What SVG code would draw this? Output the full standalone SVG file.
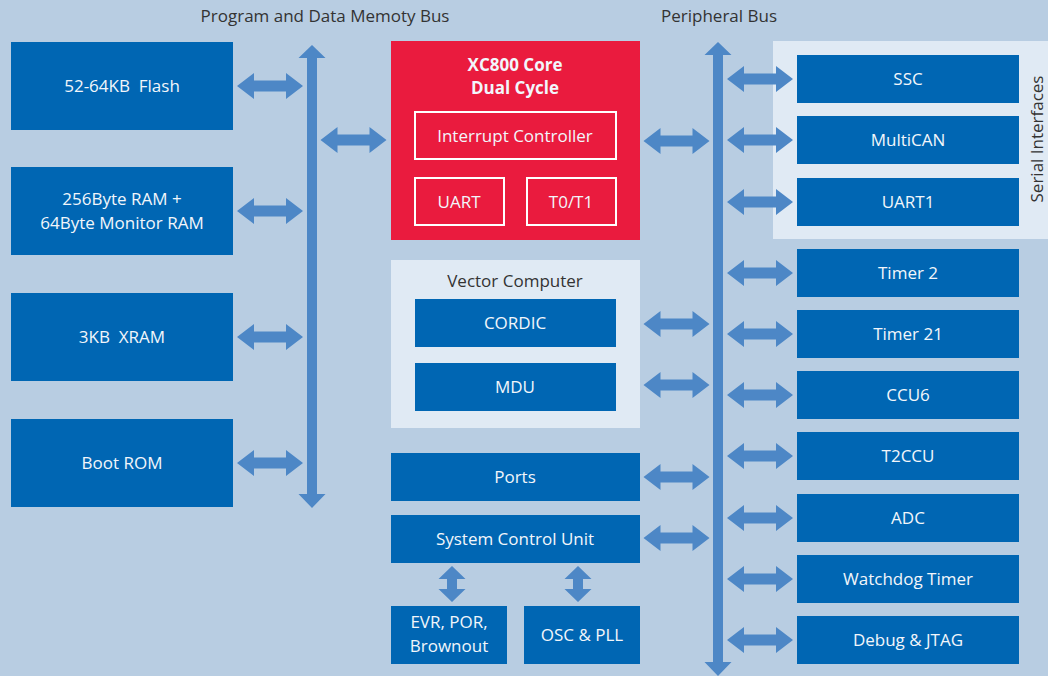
<svg xmlns="http://www.w3.org/2000/svg" xmlns:xlink="http://www.w3.org/1999/xlink" width="1048" height="676" viewBox="0 0 1048 676">
<style>
.box{fill:#0066b3}
.lbl{font-family:"Open Sans","Noto Sans",sans-serif;font-size:17px;fill:#f2f6fb;text-anchor:middle;white-space:pre}
.ttl{font-family:"Open Sans","Noto Sans",sans-serif;font-size:17px;fill:#333333;text-anchor:middle}
.bold{font-weight:bold}
.arr{fill:#4d87c6}
.panel{fill:#e0eaf4}
.sub{fill:none;stroke:#ffffff;stroke-width:2}
</style>
<defs>
<path id="ha" d="M-33,0 L-16,-13 L-16,-5.5 L16,-5.5 L16,-13 L33,0 L16,13 L16,5.5 L-16,5.5 L-16,13 Z"/>
<path id="va" d="M0,-18 L13.5,-5 L5,-5 L5,5 L13.5,5 L0,18 L-13.5,5 L-5,5 L-5,-5 L-13.5,-5 Z"/>
</defs>
<rect width="1048" height="676" fill="#b8cde2"/>
<text class="ttl" x="325" y="22">Program and Data Memoty Bus</text>
<text class="ttl" x="719" y="22">Peripheral Bus</text>

<g id="serial-panel">
<rect class="panel" x="773" y="41" width="275" height="198"/>
<text class="ttl" transform="translate(1043,139) rotate(-90)">Serial Interfaces</text>
</g>

<g id="flash"><rect class="box" x="11" y="42" width="222" height="88"/><text class="lbl" x="122" y="92" xml:space="preserve">52-64KB  Flash</text></g>
<g id="ram"><rect class="box" x="11" y="167" width="222" height="88"/><text class="lbl" x="122" y="205">256Byte RAM +</text><text class="lbl" x="122" y="229">64Byte Monitor RAM</text></g>
<g id="xram"><rect class="box" x="11" y="293" width="222" height="88"/><text class="lbl" x="122" y="343" xml:space="preserve">3KB  XRAM</text></g>
<g id="bootrom"><rect class="box" x="11" y="419" width="222" height="88"/><text class="lbl" x="122" y="469">Boot ROM</text></g>

<g id="core">
<rect x="391" y="41" width="249" height="199" fill="#ea1b3e"/>
<text class="lbl bold" x="515" y="71">XC800 Core</text>
<text class="lbl bold" x="515" y="94">Dual Cycle</text>
<rect class="sub" x="415" y="112" width="201" height="47"/>
<text class="lbl" x="515" y="142">Interrupt Controller</text>
<rect class="sub" x="415" y="178" width="89" height="47"/>
<text class="lbl" x="459" y="208">UART</text>
<rect class="sub" x="527" y="178" width="89" height="47"/>
<text class="lbl" x="571" y="208">T0/T1</text>
</g>

<g id="vector">
<rect class="panel" x="391" y="260" width="249" height="168"/>
<text class="ttl" x="515" y="287">Vector Computer</text>
<rect class="box" x="415" y="299" width="201" height="48"/><text class="lbl" x="515" y="329">CORDIC</text>
<rect class="box" x="415" y="363" width="201" height="48"/><text class="lbl" x="515" y="393">MDU</text>
</g>

<g id="ports"><rect class="box" x="391" y="453" width="249" height="48"/><text class="lbl" x="515" y="483">Ports</text></g>
<g id="scu"><rect class="box" x="391" y="515" width="249" height="48"/><text class="lbl" x="515" y="545">System Control Unit</text></g>
<g id="evr"><rect class="box" x="391" y="606" width="116" height="58"/><text class="lbl" x="449" y="628">EVR, POR,</text><text class="lbl" x="449" y="652">Brownout</text></g>
<g id="osc"><rect class="box" x="524" y="606" width="116" height="58"/><text class="lbl" x="582" y="641">OSC &amp; PLL</text></g>

<g id="ssc"><rect class="box" x="797" y="55" width="222" height="48"/><text class="lbl" x="908" y="85">SSC</text></g>
<g id="multican"><rect class="box" x="797" y="116" width="222" height="48"/><text class="lbl" x="908" y="146">MultiCAN</text></g>
<g id="uart1"><rect class="box" x="797" y="178" width="222" height="48"/><text class="lbl" x="908" y="208">UART1</text></g>
<g id="timer2"><rect class="box" x="797" y="249" width="222" height="48"/><text class="lbl" x="908" y="279">Timer 2</text></g>
<g id="timer21"><rect class="box" x="797" y="310" width="222" height="48"/><text class="lbl" x="908" y="340">Timer 21</text></g>
<g id="ccu6"><rect class="box" x="797" y="371" width="222" height="48"/><text class="lbl" x="908" y="401">CCU6</text></g>
<g id="t2ccu"><rect class="box" x="797" y="432" width="222" height="48"/><text class="lbl" x="908" y="462">T2CCU</text></g>
<g id="adc"><rect class="box" x="797" y="494" width="222" height="48"/><text class="lbl" x="908" y="524">ADC</text></g>
<g id="wdt"><rect class="box" x="797" y="555" width="222" height="48"/><text class="lbl" x="908" y="585">Watchdog Timer</text></g>
<g id="debug"><rect class="box" x="797" y="616" width="222" height="48"/><text class="lbl" x="908" y="646">Debug &amp; JTAG</text></g>

<g id="connectors" class="arr">
<path d="M312,45 L325.5,58 L317,58 L317,494 L325.5,494 L312,508 L298.5,494 L307,494 L307,58 L298.5,58 Z"/>
<path d="M718,42 L731.5,55 L723,55 L723,662 L731.5,662 L718,676 L704.5,662 L713,662 L713,55 L704.5,55 Z"/>
<use xlink:href="#ha" x="270" y="86"/>
<use xlink:href="#ha" x="270" y="211"/>
<use xlink:href="#ha" x="270" y="337"/>
<use xlink:href="#ha" x="270" y="463"/>
<use xlink:href="#ha" x="353.5" y="140"/>
<use xlink:href="#ha" x="676.5" y="141"/>
<use xlink:href="#ha" x="676.5" y="324"/>
<use xlink:href="#ha" x="676.5" y="385"/>
<use xlink:href="#ha" x="676.5" y="477"/>
<use xlink:href="#ha" x="676.5" y="538"/>
<use xlink:href="#ha" x="760" y="79"/>
<use xlink:href="#ha" x="760" y="140"/>
<use xlink:href="#ha" x="760" y="202"/>
<use xlink:href="#ha" x="760" y="273"/>
<use xlink:href="#ha" x="760" y="334"/>
<use xlink:href="#ha" x="760" y="395"/>
<use xlink:href="#ha" x="760" y="456"/>
<use xlink:href="#ha" x="760" y="518"/>
<use xlink:href="#ha" x="760" y="579"/>
<use xlink:href="#ha" x="760" y="640"/>
<use xlink:href="#va" x="452" y="584"/>
<use xlink:href="#va" x="578" y="584"/>
</g>
</svg>
